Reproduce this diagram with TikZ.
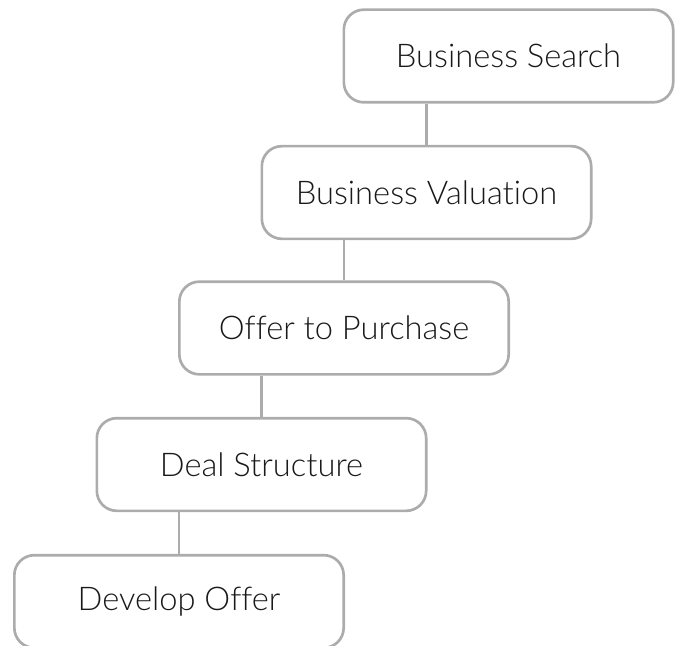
\documentclass[tikz,border=0pt]{standalone}
\usepackage{fontspec}
\IfFontExistsTF{Lato Light}{\setmainfont{Lato Light}[Ligatures=NoCommon]}{\setmainfont{Lato}[Ligatures=NoCommon]}
\usetikzlibrary{positioning}

\begin{document}
\begin{tikzpicture}[x=0.75pt, y=-0.75pt, thick]

    \tikzset{block/.style={%
      draw=gray!65,%
      line width=2pt,%
      rectangle,%
      rounded corners=15pt,%
      minimum width=247pt,%
      minimum height=69.5pt,%
      text=black!90,%
      font=\fontsize{24.5}{29}\selectfont}%
    };

    \tikzset{link/.style={draw=gray!65, line width=2pt}};

    \useasboundingbox (0, 0) rectangle (680, 645);

    %%%%%%%%%%%%%%%
    % steps       %
    %%%%%%%%%%%%%%%
    \node [block] (search) at (508.5, 56) {Business Search};

    \node [block] (valuation) at (426.5, 192.5) {Business Valuation};

    \node [block] (offer) at (344, 328) {Offer to Purchase};

    \node [block] (deal) at (261.5, 464.5) {Deal Structure};

    \node [block] (develop) at (179, 601.5) {Develop Offer};

    \draw [link] (valuation.north) -- (valuation.north |- search.south);
    \draw [link] (offer.north) -- (offer.north |- valuation.south);
    \draw [link] (deal.north) -- (deal.north |- offer.south);
    \draw [link] (develop.north) -- (develop.north |- deal.south);

  \end{tikzpicture}
\end{document}
